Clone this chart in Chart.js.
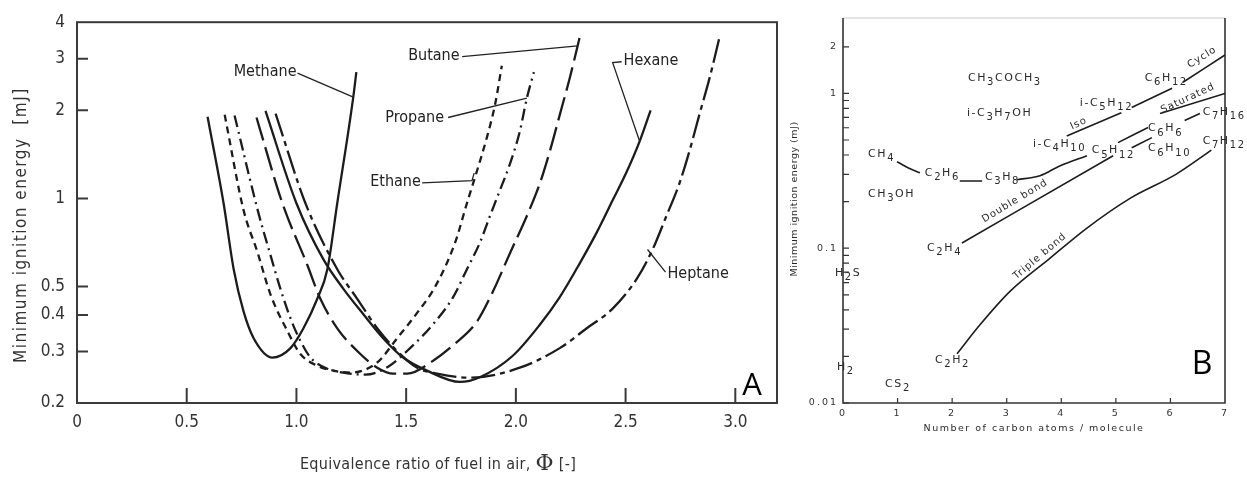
<!DOCTYPE html>
<html>
<head>
<meta charset="utf-8">
<script src="https://cdn.jsdelivr.net/npm/chart.js@4.4.0/dist/chart.umd.min.js"></script>
<style>
  html, body { margin: 0; padding: 0; background: #fff; }
  #wrap { position: relative; width: 1247px; height: 481px; overflow: hidden; }
  #chartA { position: absolute; left: 0; top: 0; }
  #chartB { position: absolute; left: 780px; top: 0; }
</style>
</head>
<body>
<div id="wrap">
  <canvas id="chartA" width="780" height="481"></canvas>
  <canvas id="chartB" width="467" height="481"></canvas>
</div>
<script>
// ---------- panel A: equivalence ratio vs minimum ignition energy (mJ)
const methanePhi = [0.595, 0.668, 0.714, 0.759, 0.805, 0.891, 0.973, 1.032, 1.095, 1.141, 1.186, 1.259, 1.273];
const methaneMie = [1.90, 0.963, 0.573, 0.411, 0.333, 0.286, 0.308, 0.36, 0.454, 0.573, 0.963, 2.22, 2.70];

const ethanePhi = [0.673, 0.759, 0.823, 0.882, 0.959, 1.018, 1.095, 1.168, 1.245, 1.368, 1.459, 1.555, 1.632, 1.723, 1.777, 1.823, 1.868, 1.905, 1.936];
const ethaneMie = [1.93, 0.912, 0.653, 0.469, 0.352, 0.294, 0.268, 0.258, 0.254, 0.275, 0.333, 0.411, 0.499, 0.706, 0.963, 1.243, 1.617, 2.09, 2.84];

const propanePhi = [0.718, 0.827, 0.882, 0.927, 0.973, 1.018, 1.064, 1.141, 1.214, 1.314, 1.418, 1.518, 1.623, 1.714, 1.777, 1.836, 1.882, 1.927, 1.973, 2.018, 2.05, 2.082];
const propaneMie = [1.92, 0.891, 0.639, 0.491, 0.389, 0.326, 0.286, 0.262, 0.254, 0.25, 0.266, 0.308, 0.372, 0.46, 0.573, 0.706, 0.871, 1.065, 1.312, 1.695, 2.20, 2.70];

const butanePhi = [0.818, 0.936, 1.05, 1.109, 1.186, 1.277, 1.368, 1.441, 1.505, 1.623, 1.714, 1.823, 1.895, 1.973, 2.05, 2.109, 2.155, 2.2, 2.245, 2.29];
const butaneMie = [1.89, 0.963, 0.591, 0.454, 0.36, 0.301, 0.264, 0.252, 0.252, 0.279, 0.315, 0.38, 0.48, 0.65, 0.871, 1.124, 1.451, 1.93, 2.57, 3.53];

const hexanePhi = [0.859, 1.0, 1.123, 1.214, 1.305, 1.395, 1.486, 1.595, 1.745, 1.836, 1.986, 2.109, 2.2, 2.291, 2.368, 2.441, 2.505, 2.564, 2.614];
const hexaneMie = [1.99, 0.963, 0.619, 0.491, 0.402, 0.333, 0.286, 0.258, 0.236, 0.245, 0.29, 0.37, 0.46, 0.6, 0.764, 0.985, 1.233, 1.567, 2.0];

const heptanePhi = [0.905, 1.041, 1.186, 1.277, 1.368, 1.459, 1.55, 1.641, 1.79, 2.018, 2.2, 2.323, 2.441, 2.55, 2.623, 2.686, 2.745, 2.791, 2.836, 2.884, 2.927];
const heptaneMie = [1.95, 0.963, 0.573, 0.454, 0.36, 0.301, 0.264, 0.252, 0.244, 0.264, 0.308, 0.36, 0.42, 0.53, 0.669, 0.871, 1.124, 1.451, 1.93, 2.6, 3.53];

const phiTicks = [0, 0.5, 1.0, 1.5, 2.0, 2.5, 3.0];
const mieTicksA = [0.2, 0.3, 0.4, 0.5, 1, 2, 3, 4];

// ---------- panel B: carbon atoms per molecule vs minimum ignition energy (mJ); null = break
const saturatedC   = [0.99, 1.19, 1.41, 1.8, 2.14, 2.55, 2.9, 3.19, 3.61, 3.97, 4.47, 4.8, 5.04, 5.59, 5.7, 5.81, 7.0];
const saturatedMie = [0.362, 0.331, 0.307, null, 0.272, 0.272, null, 0.277, 0.294, 0.34, 0.396, null, 0.481, 0.602, null, 0.742, 1.0];

const isoCycloC   = [4.1, 5.1, 5.2, 5.29, 6.03, 6.13, 6.23, 7.0];
const isoCycloMie = [0.53, 0.75, null, 0.81, 1.08, null, 1.18, 1.77];

const doubleC   = [2.18, 4.95, 5.12, 5.29, 5.66, 5.96, 6.26, 6.54];
const doubleMie = [0.108, 0.396, null, 0.446, 0.518, null, 0.668, 0.742];

const tripleC   = [2.09, 2.51, 3.06, 3.79, 4.47, 5.26, 6.1, 6.75];
const tripleMie = [0.0208, 0.032, 0.0526, 0.086, 0.135, 0.21, 0.3, 0.43];

const carbonTicks = [0, 1, 2, 3, 4, 5, 6, 7];
const mieTicksB = [0.01, 0.02, 0.03, 0.04, 0.05, 0.06, 0.07, 0.08, 0.09,
                   0.1, 0.2, 0.3, 0.4, 0.5, 0.6, 0.7, 0.8, 0.9, 1, 2];
const mieLabelsB = [0.01, 0.1, 1, 2];

const ink = '#1c1c1c';
const fontA = "'DejaVu Sans Condensed', 'Liberation Sans Narrow', sans-serif";
const fontB = "'DejaVu Sans', sans-serif";

function points(xs, ys) {
  return xs.map((v, i) => ({ x: v, y: ys[i] }));
}

function curve(label, xs, ys, dash, width) {
  return {
    label: label,
    data: points(xs, ys),
    showLine: true,
    borderColor: ink,
    borderWidth: width,
    borderDash: dash,
    pointRadius: 0,
    fill: false,
    spanGaps: false,
    cubicInterpolationMode: 'monotone'
  };
}

// labels that sit on panel A, placed in data units
const notesA = [
  { text: 'Methane', at: [0.714, 2.70], leader: [[1.005, 2.68], [1.259, 2.22]] },
  { text: 'Butane',  at: [1.509, 3.07], leader: [[1.755, 3.05], [2.282, 3.32]] },
  { text: 'Propane', at: [1.405, 1.89], leader: [[1.691, 1.89], [2.05, 2.20]] },
  { text: 'Ethane',  at: [1.336, 1.141], leader: [[1.573, 1.13], [1.80, 1.15], [1.81, 1.22]] },
  { text: 'Hexane',  at: [2.491, 2.96], leader: [[2.482, 2.93], [2.441, 2.91], [2.564, 1.567]] },
  { text: 'Heptane', at: [2.691, 0.551], leader: [[2.682, 0.56], [2.6, 0.669]] }
];

const decorA = {
  id: 'decorA',
  beforeDatasetsDraw(chart) {
    const { ctx, chartArea: a, scales } = chart;
    ctx.save();
    ctx.strokeStyle = '#3a3a3a';
    ctx.lineWidth = 2;
    ctx.strokeRect(a.left, a.top, a.right - a.left, a.bottom - a.top);
    ctx.beginPath();
    scales.x.ticks.forEach(t => {
      if (t.value <= 0) return;
      const p = scales.x.getPixelForValue(t.value);
      ctx.moveTo(p, a.bottom);
      ctx.lineTo(p, a.bottom - 15);
    });
    scales.y.ticks.forEach(t => {
      if (t.value <= 0.2 || t.value >= 4) return;
      const p = scales.y.getPixelForValue(t.value);
      ctx.moveTo(a.left, p);
      ctx.lineTo(a.left + 11, p);
    });
    ctx.stroke();
    ctx.restore();
  },
  afterDatasetsDraw(chart) {
    const { ctx, chartArea: a, scales } = chart;
    const X = v => scales.x.getPixelForValue(v);
    const Y = v => scales.y.getPixelForValue(v);
    ctx.save();
    ctx.fillStyle = '#222';
    ctx.strokeStyle = '#222';
    ctx.lineWidth = 1.3;
    ctx.textBaseline = 'middle';
    ctx.textAlign = 'left';
    ctx.font = '16px ' + fontA;
    notesA.forEach(n => {
      ctx.fillText(n.text, X(n.at[0]), Y(n.at[1]));
      ctx.beginPath();
      n.leader.forEach((p, i) => {
        if (i === 0) ctx.moveTo(X(p[0]), Y(p[1]));
        else ctx.lineTo(X(p[0]), Y(p[1]));
      });
      ctx.stroke();
    });
    // panel letter
    ctx.font = '31px "Open Sans", "Liberation Sans", sans-serif';
    ctx.textAlign = 'center';
    ctx.fillStyle = '#000';
    ctx.fillText('A', a.right - 25, a.bottom - 17);
    // axis titles
    ctx.fillStyle = '#333';
    ctx.font = '17px ' + fontA;
    ctx.letterSpacing = '1.5px';
    ctx.save();
    ctx.translate(22, a.top + 203);
    ctx.rotate(-Math.PI / 2);
    ctx.fillText('Minimum ignition energy  [mJ]', 0, 0);
    ctx.restore();
    ctx.letterSpacing = '0.3px';
    const partA = 'Equivalence ratio of fuel in air, ';
    const partB = 'Φ';
    const partC = ' [-]';
    ctx.font = '16px ' + fontA;
    const wA = ctx.measureText(partA).width;
    const wC = ctx.measureText(partC).width;
    ctx.font = '22px "DejaVu Serif", serif';
    const wB = ctx.measureText(partB).width;
    let tx = a.left + 361 - (wA + wB + wC) / 2;
    const ty = a.bottom + 62;
    ctx.textAlign = 'left';
    ctx.font = '16px ' + fontA;
    ctx.fillText(partA, tx, ty);
    tx += wA;
    ctx.font = '22px "DejaVu Serif", serif';
    ctx.fillText(partB, tx, ty - 1);
    tx += wB;
    ctx.font = '16px ' + fontA;
    ctx.fillText(partC, tx, ty);
    ctx.restore();
  }
};

new Chart(document.getElementById('chartA'), {
  type: 'scatter',
  data: {
    datasets: [
      curve('Methane', methanePhi, methaneMie, [], 2.3),
      curve('Ethane', ethanePhi, ethaneMie, [7, 5], 2.3),
      curve('Propane', propanePhi, propaneMie, [12, 5, 2, 5], 2.3),
      curve('Butane', butanePhi, butaneMie, [24, 7], 2.3),
      curve('Hexane', hexanePhi, hexaneMie, [], 2.3),
      curve('Heptane', heptanePhi, heptaneMie, [24, 5, 5, 5], 2.3)
    ]
  },
  options: {
    responsive: false,
    animation: false,
    layout: { padding: { left: 0, right: 3, top: 16, bottom: 0 } },
    plugins: { legend: { display: false }, tooltip: { enabled: false } },
    scales: {
      x: {
        type: 'linear', min: 0, max: 3.19,
        afterBuildTicks: s => { s.ticks = phiTicks.map(v => ({ value: v })); },
        afterFit: s => { s.height = 78; },
        grid: { display: false, drawTicks: false },
        border: { display: false },
        ticks: {
          padding: 9, color: '#333', maxRotation: 0, autoSkip: false,
          font: { family: fontA, size: 17 },
          callback: v => (v === 0 ? '0' : v.toFixed(1))
        }
      },
      y: {
        type: 'logarithmic', min: 0.2, max: 4,
        afterBuildTicks: s => { s.ticks = mieTicksA.map(v => ({ value: v })); },
        afterFit: s => { s.width = 77; },
        grid: { display: false, drawTicks: false },
        border: { display: false },
        ticks: {
          padding: 12, color: '#333', autoSkip: false,
          font: { family: fontA, size: 17 },
          callback: v => String(v)
        }
      }
    }
  },
  plugins: [decorA]
});

// ---------- panel B
const formulasB = [
  { text: 'CH3COCH3', at: [2.29, 1.25] },
  { text: 'i-C3H7OH', at: [2.27, 0.742] },
  { text: 'CH4', at: [0.458, 0.408] },
  { text: 'CH3OH', at: [0.458, 0.224] },
  { text: 'C2H6', at: [1.50, 0.307] },
  { text: 'C3H8', at: [2.60, 0.289] },
  { text: 'i-C4H10', at: [3.48, 0.473] },
  { text: 'C5H12', at: [4.56, 0.427] },
  { text: 'i-C5H12', at: [4.34, 0.861] },
  { text: 'C6H12', at: [5.53, 1.25] },
  { text: 'C6H6', at: [5.59, 0.593] },
  { text: 'C6H10', at: [5.59, 0.44] },
  { text: 'C7H16', at: [6.59, 0.753] },
  { text: 'C7H12', at: [6.59, 0.495] },
  { text: 'C2H4', at: [1.54, 0.1] },
  { text: 'C2H2', at: [1.685, 0.019] },
  { text: 'H2S', at: [-0.147, 0.0689] },
  { text: 'H2', at: [-0.11, 0.0171] },
  { text: 'CS2', at: [0.77, 0.0133] }
];

const slantedB = [
  { text: 'Double bond', at: [3.15, 0.202], angle: -31 },
  { text: 'Triple bond', at: [3.61, 0.0887], angle: -40 },
  { text: 'Iso', at: [4.32, 0.638], angle: -25 },
  { text: 'Saturated', at: [6.32, 0.928], angle: -25 },
  { text: 'Cyclo', at: [6.58, 1.71], angle: -32 }
];

function drawFormula(ctx, text, x, y, size) {
  let cx = x;
  for (const ch of text) {
    const sub = ch >= '0' && ch <= '9';
    ctx.font = (sub ? size - 1 : size) + 'px ' + fontB;
    ctx.fillText(ch, cx, sub ? y + size * 0.4 : y);
    cx += ctx.measureText(ch).width + 1.6;
  }
}

const decorB = {
  id: 'decorB',
  beforeDraw(chart) {
    chart.ctx.letterSpacing = '2px';
  },
  beforeDatasetsDraw(chart) {
    const { ctx, chartArea: a, scales } = chart;
    ctx.save();
    ctx.strokeStyle = '#c8c8c8';
    ctx.lineWidth = 1;
    ctx.beginPath();
    ctx.moveTo(a.left, a.top);
    ctx.lineTo(a.right, a.top);
    ctx.stroke();
    ctx.strokeStyle = '#333';
    ctx.lineWidth = 1.6;
    ctx.beginPath();
    ctx.moveTo(a.left, a.top);
    ctx.lineTo(a.left, a.bottom);
    ctx.lineTo(a.right, a.bottom);
    ctx.lineTo(a.right, a.top);
    ctx.stroke();
    ctx.lineWidth = 1.2;
    ctx.beginPath();
    scales.x.ticks.forEach(t => {
      if (t.value <= 0 || t.value >= 7) return;
      const p = scales.x.getPixelForValue(t.value);
      ctx.moveTo(p, a.bottom);
      ctx.lineTo(p, a.bottom - 5);
    });
    scales.y.ticks.forEach(t => {
      const p = scales.y.getPixelForValue(t.value);
      ctx.moveTo(a.left, p);
      ctx.lineTo(a.left + 6, p);
    });
    ctx.stroke();
    ctx.restore();
  },
  afterDatasetsDraw(chart) {
    const { ctx, chartArea: a, scales } = chart;
    const X = v => scales.x.getPixelForValue(v);
    const Y = v => scales.y.getPixelForValue(v);
    ctx.save();
    ctx.letterSpacing = '0px';
    ctx.fillStyle = '#2a2a2a';
    ctx.textBaseline = 'middle';
    ctx.textAlign = 'left';
    formulasB.forEach(f => drawFormula(ctx, f.text, X(f.at[0]), Y(f.at[1]), 11));
    ctx.font = '10px ' + fontB;
    ctx.letterSpacing = '1px';
    ctx.textAlign = 'center';
    slantedB.forEach(s => {
      ctx.save();
      ctx.translate(X(s.at[0]), Y(s.at[1]));
      ctx.rotate(s.angle * Math.PI / 180);
      ctx.fillText(s.text, 0, 0);
      ctx.restore();
    });
    // axis titles
    ctx.font = '9.5px ' + fontB;
    ctx.letterSpacing = '1.5px';
    ctx.fillText('Number of carbon atoms / molecule', a.left + 191, a.bottom + 26);
    ctx.letterSpacing = '0.5px';
    ctx.save();
    ctx.translate(15, a.top + 181);
    ctx.rotate(-Math.PI / 2);
    ctx.fillText('Minimum ignition energy (mJ)', 0, 0);
    ctx.restore();
    // panel letter
    ctx.letterSpacing = '0px';
    ctx.fillStyle = '#000';
    ctx.font = '32px "Open Sans", "Liberation Sans", sans-serif';
    ctx.fillText('B', a.right - 23, a.bottom - 38);
    ctx.restore();
  }
};

new Chart(document.getElementById('chartB'), {
  type: 'scatter',
  data: {
    datasets: [
      curve('Saturated', saturatedC, saturatedMie, [], 1.6),
      curve('Iso / Cyclo', isoCycloC, isoCycloMie, [], 1.6),
      curve('Double bond', doubleC, doubleMie, [], 1.6),
      curve('Triple bond', tripleC, tripleMie, [], 1.6)
    ]
  },
  options: {
    responsive: false,
    animation: false,
    layout: { padding: { left: 0, right: 22, top: 18, bottom: 0 } },
    plugins: { legend: { display: false }, tooltip: { enabled: false } },
    scales: {
      x: {
        type: 'linear', min: 0, max: 7,
        afterBuildTicks: s => { s.ticks = carbonTicks.map(v => ({ value: v })); },
        afterFit: s => { s.height = 78; },
        grid: { display: false, drawTicks: false },
        border: { display: false },
        ticks: {
          padding: 5, color: '#333', maxRotation: 0, autoSkip: false,
          font: { family: fontB, size: 9.5 },
          callback: v => String(v)
        }
      },
      y: {
        type: 'logarithmic', min: 0.01, max: 3.07,
        afterBuildTicks: s => { s.ticks = mieTicksB.map(v => ({ value: v })); },
        afterFit: s => { s.width = 63; },
        grid: { display: false, drawTicks: false },
        border: { display: false },
        ticks: {
          padding: 5, color: '#333', autoSkip: false,
          font: { family: fontB, size: 9.5 },
          callback: v => (mieLabelsB.includes(v) ? String(v) : '')
        }
      }
    }
  },
  plugins: [decorB]
});
</script>
</body>
</html>
